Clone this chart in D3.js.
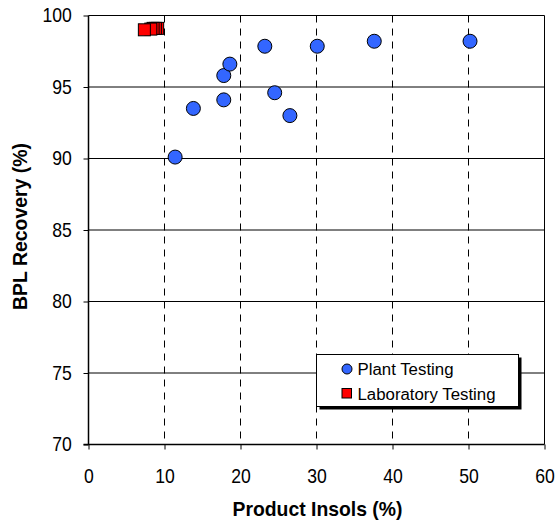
<!DOCTYPE html>
<html><head><meta charset="utf-8">
<script src="https://cdn.jsdelivr.net/npm/d3@7"></script>
<style>body{margin:0;background:#fff}svg{display:block}</style>
</head><body>
<svg id="c" width="556" height="521"></svg>
<script>
const plantX = [11.4, 13.8, 17.8, 17.8, 18.6, 23.2, 24.5, 26.5, 30.1, 37.6, 50.2];
const plantY = [90.1, 93.5, 94.1, 95.8, 96.6, 97.85, 94.6, 93.0, 97.85, 98.2, 98.2];
const labX = [9.1, 8.8, 8.5, 8.2, 7.35];
const labY = [99.1, 99.1, 99.1, 99.05, 99.0];
const xTicks = [0, 10, 20, 30, 40, 50, 60];
const yTicks = [70, 75, 80, 85, 90, 95, 100];
const seriesNames = ["Plant Testing", "Laboratory Testing"];

const svg = d3.select("#c");
const L = 88.5, R = 544.5, T = 15.5, B = 444.5;
const x = d3.scaleLinear().domain([0, 60]).range([L, R]);
const y = d3.scaleLinear().domain([70, 100]).range([B, T]);
const font = "Arial, 'Liberation Sans', sans-serif";

// horizontal grid
svg.append("g").selectAll("line").data(yTicks.filter(v => v > 70 && v < 100)).join("line")
  .attr("x1", L).attr("x2", R).attr("y1", d => y(d)).attr("y2", d => y(d))
  .attr("stroke", "#000").attr("stroke-width", 1);
// vertical dashed grid
svg.append("g").selectAll("line").data(xTicks.filter(v => v > 0 && v < 60)).join("line")
  .attr("y1", T).attr("y2", B).attr("x1", d => x(d)).attr("x2", d => x(d))
  .attr("stroke", "#000").attr("stroke-width", 1).attr("stroke-dasharray", "7,6");
// border top/right
svg.append("path").attr("d", `M${L},${T}H${R}V${B}`).attr("fill", "none").attr("stroke", "#000").attr("stroke-width", 1);

// axes
const xAxis = svg.append("g").attr("transform", `translate(0,${B})`)
  .call(d3.axisBottom(x).tickValues(xTicks).tickSize(5).tickPadding(19));
const yAxis = svg.append("g").attr("transform", `translate(${L},0)`)
  .call(d3.axisLeft(y).tickValues(yTicks).tickSize(5).tickPadding(14));
[xAxis, yAxis].forEach(a => {
  a.select(".domain").attr("stroke", "#000").attr("stroke-width", 1.5);
  a.selectAll(".tick line").attr("stroke", "#000");
  a.selectAll("text").attr("font-family", font).attr("font-size", 20).attr("fill", "#000")
    .attr("transform", "scale(0.88,1)");
});
yAxis.select(".domain").attr("d", `M0,${T}V${B}`);
xAxis.select(".domain").attr("d", `M${L - 5},0H${R}`);

// axis titles
svg.append("text").attr("x", 317.5).attr("y", 516).attr("text-anchor", "middle")
  .attr("font-family", font).attr("font-size", 20.5).attr("font-weight", "bold")
  .attr("textLength", 170).attr("lengthAdjust", "spacingAndGlyphs").text("Product Insols (%)");
svg.append("text").attr("transform", `translate(26.5,226.5) rotate(-90)`).attr("text-anchor", "middle")
  .attr("font-family", font).attr("font-size", 20.5).attr("font-weight", "bold")
  .attr("textLength", 167).attr("lengthAdjust", "spacingAndGlyphs").text("BPL Recovery (%)");

// plant points
svg.append("g").selectAll("circle").data(plantX.map((d, i) => [d, plantY[i]])).join("circle")
  .attr("cx", d => x(d[0])).attr("cy", d => y(d[1])).attr("r", 7)
  .attr("fill", "#3366FF").attr("stroke", "#000").attr("stroke-width", 1);
// lab points
const s = 12;
svg.append("g").selectAll("rect").data(labX.map((d, i) => [d, labY[i]])).join("rect")
  .attr("x", d => x(d[0]) - s / 2).attr("y", d => y(d[1]) - s / 2).attr("width", s).attr("height", s)
  .attr("fill", "#FF0000").attr("stroke", "#000").attr("stroke-width", 1);

// legend
const lg = svg.append("g");
const lx = 316.5, ly = 354.5, lw = 202, lh = 52;
lg.append("rect").attr("x", lx + 3).attr("y", ly + 3).attr("width", lw).attr("height", lh).attr("fill", "#000");
lg.append("rect").attr("x", lx).attr("y", ly).attr("width", lw).attr("height", lh).attr("fill", "#fff").attr("stroke", "#000");
lg.append("circle").attr("cx", 347).attr("cy", 369).attr("r", 5).attr("fill", "#3366FF").attr("stroke", "#000");
lg.append("rect").attr("x", 342).attr("y", 388.5).attr("width", 9.5).attr("height", 9.5).attr("fill", "#FF0000").attr("stroke", "#000");
const legLens = [96, 138];
lg.selectAll("text").data(seriesNames).join("text")
  .attr("x", 357.5).attr("y", (d, i) => 374.5 + i * 25)
  .attr("font-family", font).attr("font-size", 16).attr("fill", "#000")
  .attr("textLength", (d, i) => legLens[i]).attr("lengthAdjust", "spacingAndGlyphs").text(d => d);
</script>
</body></html>
